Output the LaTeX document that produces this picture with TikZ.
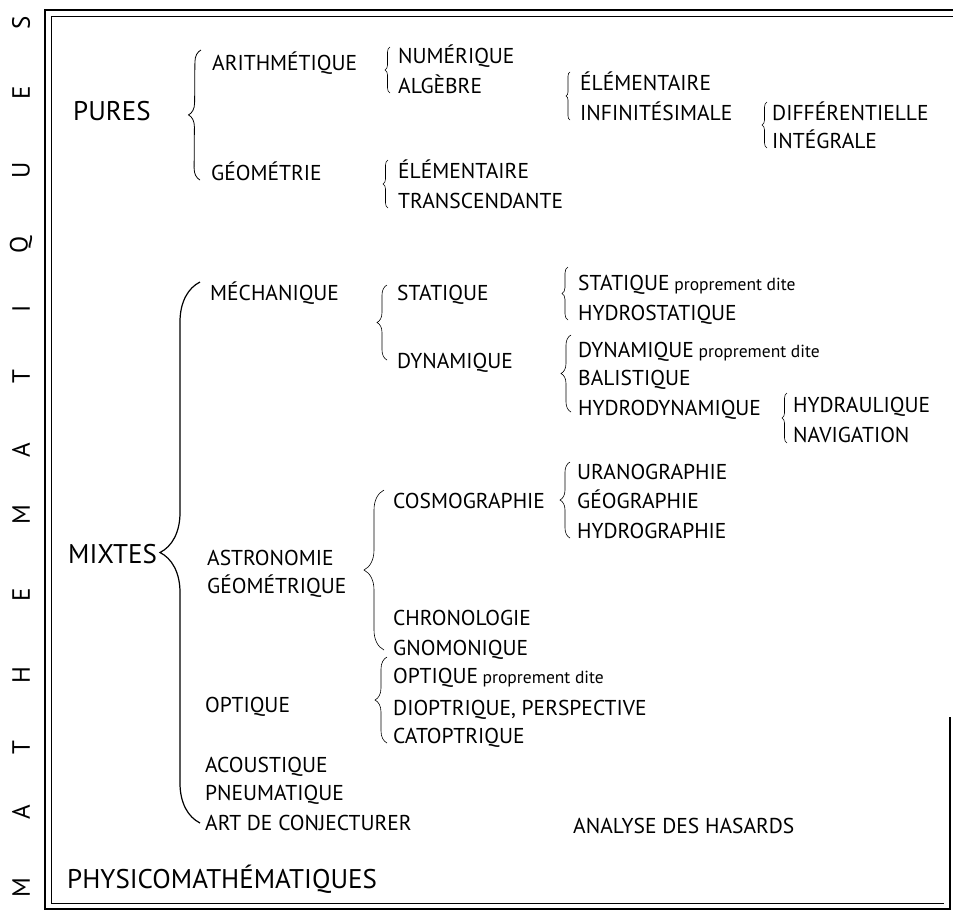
\documentclass[tikz,border=0pt]{standalone}
\usepackage{fontspec}
\setmainfont{PT Sans}
\usetikzlibrary{decorations.pathreplacing}
\tikzset{
  lbl/.style={anchor=base west, inner sep=0pt, font=\fontsize{21.5}{26}\selectfont},
  big/.style={lbl, font=\fontsize{27}{32}\selectfont},
  vlet/.style={inner sep=0pt, rotate=90, font=\fontsize{25}{28}\selectfont},
  brc/.style={decorate, decoration={brace, amplitude=#1}, line width=0.6pt},
  brc/.default=6pt
}
\newcommand{\pdite}{{\fontsize{17.5}{20}\selectfont\ proprement dite}}
\begin{document}
\begin{tikzpicture}[x=1pt, y=-1pt]
	\useasboundingbox (0,0) rectangle (953,914);
	\draw[line width=1.4pt] (956,10) -- (45,10) -- (45,909) -- (950,909) -- (950,717);
	\draw[line width=0.6pt] (956,16) -- (51,16) -- (51,903) -- (944,903);
	\foreach \l/\y in {M/888, A/812, T/748, H/675, E/595, M/515, A/450, T/377, I/309, Q/245, U/170, E/93, S/23}
	\node[vlet] (let\y) at (21,\y) {\l};
	\node[big] (pures) at (73,120) {PURES};
	\node[big] (mixtes) at (68,563) {MIXTES};
	\node[big] (physico) at (67,888) {PHYSICOMATHÉMATIQUES};
	\node[lbl] (arith) at (212,70) {ARITHMÉTIQUE};
	\node[lbl] (geom) at (211,180) {GÉOMÉTRIE};
	\node[lbl] (num) at (398,63) {NUMÉRIQUE};
	\node[lbl] (alg) at (398,93) {ALGÈBRE};
	\node[lbl] (elem) at (580,90) {ÉLÉMENTAIRE};
	\node[lbl] (infin) at (580,120) {INFINITÉSIMALE};
	\node[lbl] (diff) at (772,120) {DIFFÉRENTIELLE};
	\node[lbl] (integ) at (772,148) {INTÉGRALE};
	\node[lbl] (geoelem) at (398,178) {ÉLÉMENTAIRE};
	\node[lbl] (transc) at (398,208) {TRANSCENDANTE};
	\node[lbl] (mech) at (210,300) {MÉCHANIQUE};
	\node[lbl] (stat) at (397,300) {STATIQUE};
	\node[lbl] (dyn) at (397,368) {DYNAMIQUE};
	\node[lbl] (statpd) at (578,290) {STATIQUE\pdite};
	\node[lbl] (hydrost) at (578,320) {HYDROSTATIQUE};
	\node[lbl] (dynpd) at (578,357) {DYNAMIQUE\pdite};
	\node[lbl] (balist) at (578,385) {BALISTIQUE};
	\node[lbl] (hydrodyn) at (578,415) {HYDRODYNAMIQUE};
	\node[lbl] (hydraul) at (793,412) {HYDRAULIQUE};
	\node[lbl] (navig) at (793,442) {NAVIGATION};
	\node[lbl] (astro) at (207,565) {ASTRONOMIE};
	\node[lbl] (astrogeo) at (207,593) {GÉOMÉTRIQUE};
	\node[lbl] (cosmo) at (393,508) {COSMOGRAPHIE};
	\node[lbl] (urano) at (577,479) {URANOGRAPHIE};
	\node[lbl] (geogr) at (577,508) {GÉOGRAPHIE};
	\node[lbl] (hydrogr) at (577,538) {HYDROGRAPHIE};
	\node[lbl] (chrono) at (393,625) {CHRONOLOGIE};
	\node[lbl] (gnomon) at (393,655) {GNOMONIQUE};
	\node[lbl] (opt) at (205,712) {OPTIQUE};
	\node[lbl] (optpd) at (393,683) {OPTIQUE\pdite};
	\node[lbl] (diopt) at (393,715) {DIOPTRIQUE, PERSPECTIVE};
	\node[lbl] (catopt) at (393,743) {CATOPTRIQUE};
	\node[lbl] (acoust) at (205,772) {ACOUSTIQUE};
	\node[lbl] (pneum) at (205,800) {PNEUMATIQUE};
	\node[lbl] (artconj) at (205,830) {ART DE CONJECTURER};
	\node[lbl] (hasard) at (573,833) {ANALYSE DES HASARDS};
	\draw[brc=12pt, line width=0.8pt] ([xshift=-11pt]geom.base west) -- ([xshift=-11pt, yshift=20pt]arith.base west);
	\draw[brc=40pt, line width=1.2pt] ([xshift=-10pt, yshift=7pt]mech.base west |- artconj.base west) -- ([xshift=-10pt, yshift=18pt]mech.base west);
	\draw[brc=5pt] ([xshift=-8pt]alg.base west) -- ([xshift=-8pt, yshift=16pt]num.base west);
	\draw[brc=4pt] ([xshift=-10pt]infin.base west) -- ([xshift=-10pt, yshift=18pt]elem.base west);
	\draw[brc=5pt] ([xshift=-5pt]integ.base west) -- ([xshift=-5pt, yshift=18pt]diff.base west);
	\draw[brc=5pt] ([xshift=-10pt]transc.base west) -- ([xshift=-10pt, yshift=18pt]geoelem.base west);
	\draw[brc=10pt] ([xshift=-10pt, yshift=8pt]dyn.base west) -- ([xshift=-10pt, yshift=15pt]stat.base west);
	\draw[brc=6pt] ([xshift=-10pt]hydrost.base west) -- ([xshift=-10pt, yshift=23pt]statpd.base west);
	\draw[brc=10pt] ([xshift=-7pt, yshift=3pt]hydrodyn.base west) -- ([xshift=-7pt, yshift=22pt]dynpd.base west);
	\draw[brc=5pt] ([xshift=-6pt, yshift=-1pt]navig.base west) -- ([xshift=-6pt, yshift=19pt]hydraul.base west);
	\draw[brc=20pt] ([xshift=-9pt, yshift=5pt]gnomon.base west) -- ([xshift=-9pt, yshift=18pt]cosmo.base west);
	\draw[brc=10pt] ([xshift=-7pt]hydrogr.base west) -- ([xshift=-7pt, yshift=17pt]urano.base west);
	\draw[brc=12pt] ([xshift=-6pt]catopt.base west) -- ([xshift=-6pt, yshift=26pt]optpd.base west);
\end{tikzpicture}
\end{document}
